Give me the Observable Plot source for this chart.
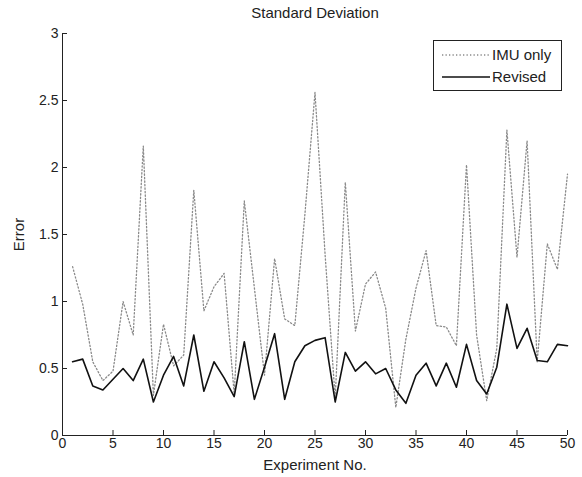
<!DOCTYPE html>
<html>
<head>
<meta charset="utf-8">
<script src="https://cdn.jsdelivr.net/npm/d3@7"></script>
<script src="https://cdn.jsdelivr.net/npm/@observablehq/plot@0.6"></script>
<style>
  html, body { margin: 0; padding: 0; background: #fff; }
  #wrap { position: relative; width: 582px; height: 477px; font-family: "Liberation Sans", Arial, sans-serif; color: #222; }
  #title { position: absolute; top: 4px; left: 62px; width: 506px; text-align: center; font-size: 15px; }
  #legend { position: absolute; left: 433px; top: 40px; width: 129px; height: 51px; border: 1px solid #222; background: #fff; box-sizing: border-box; }
  #legend svg { display: block; }
</style>
</head>
<body>
<div id="wrap">
  <div id="chart"></div>
  <div id="title">Standard Deviation</div>
  <div id="legend"></div>
</div>
<script>
// Experiment numbers
const experiments = [1,2,3,4,5,6,7,8,9,10,11,12,13,14,15,16,17,18,19,20,21,22,23,24,25,26,27,28,29,30,31,32,33,34,35,36,37,38,39,40,41,42,43,44,45,46,47,48,49,50];
// Series: IMU only (dotted)
const imuOnly = [1.26,0.98,0.55,0.41,0.48,1.00,0.75,2.16,0.30,0.83,0.52,0.60,1.83,0.93,1.11,1.21,0.31,1.75,1.10,0.45,1.32,0.87,0.82,1.65,2.56,1.35,0.28,1.89,0.78,1.13,1.22,0.95,0.21,0.72,1.10,1.38,0.82,0.81,0.67,2.02,0.75,0.26,0.65,2.28,1.33,2.20,0.55,1.43,1.24,1.95];
// Series: Revised (solid)
const revised = [0.55,0.57,0.37,0.34,0.42,0.50,0.41,0.57,0.25,0.45,0.59,0.37,0.75,0.33,0.55,0.43,0.29,0.70,0.27,0.51,0.76,0.27,0.55,0.67,0.71,0.73,0.25,0.62,0.48,0.55,0.46,0.50,0.34,0.24,0.45,0.54,0.37,0.54,0.36,0.68,0.41,0.31,0.51,0.98,0.65,0.80,0.56,0.55,0.68,0.67];
// Tick labels
const xTicks = [0,5,10,15,20,25,30,35,40,45,50];
const yTicks = [0,0.5,1,1.5,2,2.5,3];
const seriesNames = ["IMU only", "Revised"];

const imuData = experiments.map((e, i) => ({exp: e, value: imuOnly[i]}));
const revData = experiments.map((e, i) => ({exp: e, value: revised[i]}));

const chart = Plot.plot({
  width: 582,
  height: 477,
  marginLeft: 62,
  marginRight: 15,
  marginTop: 33,
  marginBottom: 42,
  style: { fontFamily: "Liberation Sans, Arial, sans-serif", fontSize: "14px", color: "#222", background: "white" },
  x: { domain: [0, 50] },
  y: { domain: [0, 3] },
  marks: [
    Plot.axisX({ ticks: xTicks, tickSize: -5, tickPadding: 8, tickFormat: d => String(d), label: null, fontSize: 14 }),
    Plot.axisX({ ticks: [], label: "Experiment No.", labelAnchor: "center", labelOffset: 34, labelArrow: "none", fontSize: 15 }),
    Plot.axisY({ ticks: yTicks, tickSize: -5, tickPadding: 9, tickFormat: d => String(d), label: null, fontSize: 14 }),
    Plot.axisY({ ticks: [], label: "Error", labelAnchor: "center", labelOffset: 49, labelArrow: "none", fontSize: 15 }),
    Plot.ruleY([0], { stroke: "#222" }),
    Plot.ruleX([0], { stroke: "#222" }),
    Plot.line(imuData, { x: "exp", y: "value", stroke: "#8a8a8a", strokeWidth: 1.3, strokeDasharray: "1.3,2.2" }),
    Plot.line(revData, { x: "exp", y: "value", stroke: "#111", strokeWidth: 1.6 })
  ]
});
document.getElementById("chart").appendChild(chart);

// Legend
const lg = d3.select("#legend").append("svg").attr("width", 127).attr("height", 49);
const styles = [
  { stroke: "#8a8a8a", dash: "1.3,2.2", width: 1.3 },
  { stroke: "#111", dash: null, width: 1.6 }
];
seriesNames.forEach((name, i) => {
  const y = 14 + i * 22;
  lg.append("line").attr("x1", 8).attr("x2", 56).attr("y1", y).attr("y2", y)
    .attr("stroke", styles[i].stroke).attr("stroke-width", styles[i].width)
    .attr("stroke-dasharray", styles[i].dash);
  lg.append("text").attr("x", 58).attr("y", y).attr("dy", "0.35em")
    .attr("font-size", 15).attr("fill", "#222").text(name);
});
</script>
</body>
</html>
